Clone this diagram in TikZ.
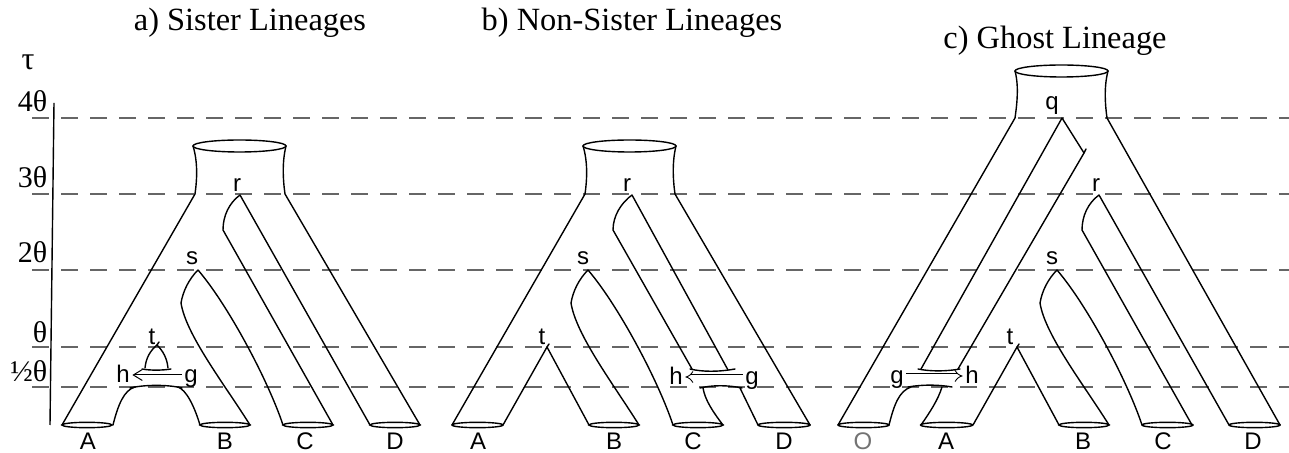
\documentclass[tikz,border=0pt]{standalone}
\usepackage{fontspec}
\setmainfont{Liberation Serif}
\setsansfont{Liberation Sans}
\usetikzlibrary{arrows.meta}

\begin{document}
\begin{tikzpicture}[x=0.5pt,y=-0.5pt,line width=0.7pt]
    \tikzstyle{thetaline}=[draw=black!60, line width=0.6pt, dash pattern=on 8.5pt off 6pt]
    \tikzstyle{tube}=[line join=round, line cap=round]
    \tikzstyle{lbl}=[font=\sffamily\fontsize{12}{14}\selectfont, inner sep=1pt, text height=9pt, text depth=1pt]
    \tikzstyle{paneltitle}=[font=\fontsize{16.2}{19}\selectfont, anchor=base, inner sep=0pt]
    \tikzstyle{tick}=[font=\fontsize{15}{18}\selectfont, anchor=base east, inner sep=0pt]
    \tikzstyle{geneflow}=[line width=0.5pt, -{Straight Barb[length=4.5pt,width=5.5pt]}]
    \tikzstyle{wideflow}=[line width=0.45pt, double, double distance=1.6pt, -{Implies}]
    \useasboundingbox (0,0) rectangle (1289,453);

    \node[paneltitle] (titlea) at (250,31) {a) Sister Lineages};
    \node[paneltitle] (titleb) at (632,31) {b) Non-Sister Lineages};
    \node[paneltitle] (titlec) at (1055,49) {c) Ghost Lineage};

    \draw[thetaline] (32,118) -- (1289,118);
    \draw[thetaline] (32,194) -- (1289,194);
    \draw[thetaline] (32,270) -- (1289,270);
    \draw[thetaline] (32,347) -- (1289,347);
    \draw[thetaline] (32,387) -- (1289,387);

    \node[font=\fontsize{16}{18}\selectfont, inner sep=0pt] (tau) at (28,62) {τ};
    \node[tick] (four) at (48,112) {4θ};
    \node[tick] (three) at (48,188) {3θ};
    \node[tick] (two) at (48,263) {2θ};
    \node[tick] (one) at (48,343) {θ};
    \node[tick] (half) at (48,382) {½θ};
    \draw (54,103) -- (50,425);

    % a) sister lineages
    \draw (239.5,146) ellipse [x radius=46.5, y radius=6];
    \draw[tube] (62,425) -- (195,194) .. controls (197,180) and (198,162) .. (193,146);
    \draw[tube] (420,425) -- (285,194) .. controls (283,180) and (282,162) .. (286,146);
    \draw[tube] (370,425) -- (240,195) .. controls (229,203) and (223,216) .. (223,230) -- (333,425);
    \draw[tube] (283,425) .. controls (268,380) and (228,305) .. (198,270)
        .. controls (189,279) and (183,291) .. (181,303) .. controls (186,335) and (225,385) .. (250,425);
    \draw[tube] (113,425) .. controls (118,405) and (124,390) .. (135,387);
    \draw[tube] (130,388) .. controls (145,384.5) and (168,384.5) .. (182,388);
    \draw[tube] (178,387) .. controls (186,390) and (194,405) .. (200,425);
    \draw[tube] (145,368) .. controls (146,358) and (150,351) .. (157,345) .. controls (163,351) and (167,358) .. (168,368);
    \draw[tube] (157,345) -- (159,342);
    \draw[tube] (142,369) .. controls (150,370.5) and (162,370.5) .. (171,369);
    \draw (87,425) ellipse [x radius=25, y radius=2.7];
    \draw (225,425) ellipse [x radius=25, y radius=2.7];
    \draw (308,425) ellipse [x radius=25, y radius=2.7];
    \draw (395,425) ellipse [x radius=25, y radius=2.7];
    \node[lbl] (ra) at (237,184) {r};
    \node[lbl] (sa) at (192,257) {s};
    \node[lbl] (ta) at (152,337) {t};
    \node[lbl] (ha) at (123,375) {h};
    \node[lbl] (ga) at (191,375) {g};
    \draw[geneflow] (ga) -- (ha);
    \node[lbl] (Aa) at (88,442) {A};
    \node[lbl] (Ba) at (225,442) {B};
    \node[lbl] (Ca) at (305,442) {C};
    \node[lbl] (Da) at (395,442) {D};

    % b) non-sister lineages
    \draw (629.5,146) ellipse [x radius=46.5, y radius=6];
    \draw[tube] (452,425) -- (585,194) .. controls (587,180) and (588,162) .. (583,146);
    \draw[tube] (810,425) -- (675,194) .. controls (673,180) and (672,162) .. (676,146);
    \draw[tube] (728,370) -- (632,195) .. controls (621,203) and (613,216) .. (613,230) -- (692,369);
    \draw[tube] (673,425) .. controls (658,380) and (618,305) .. (588,270)
        .. controls (579,279) and (573,291) .. (571,303) .. controls (576,335) and (614,385) .. (639,425);
    \draw[tube] (503,425) -- (547,347) -- (589,425);
    \draw[tube] (547,347) -- (549,344);
    \draw[tube] (690,369) .. controls (703,372) and (718,372) .. (735,369);
    \draw[tube] (700,388) .. controls (712,385) and (728,385) .. (742,388);
    \draw[tube] (703,388) .. controls (705,400) and (713,412) .. (723,425);
    \draw[tube] (740,388) -- (758,425);
    \draw (477.5,425) ellipse [x radius=25.5, y radius=2.7];
    \draw (614,425) ellipse [x radius=25, y radius=2.7];
    \draw (698,425) ellipse [x radius=25, y radius=2.7];
    \draw (784,425) ellipse [x radius=26, y radius=2.7];
    \node[lbl] (rb) at (627,184) {r};
    \node[lbl] (sb) at (583,257) {s};
    \node[lbl] (tb) at (542,337) {t};
    \node[lbl] (hb) at (676,377) {h};
    \node[lbl] (gb) at (752,377) {g};
    \draw[wideflow] (gb) -- (hb);
    \node[lbl] (Ab) at (478,442) {A};
    \node[lbl] (Bb) at (614,442) {B};
    \node[lbl] (Cb) at (693,442) {C};
    \node[lbl] (Db) at (784,442) {D};

    % c) ghost lineage
    \draw (1061.5,71) ellipse [x radius=46.5, y radius=6];
    \draw[tube] (838,425) -- (1015,118) .. controls (1017,104) and (1019,86) .. (1015,71);
    \draw[tube] (1280,425) -- (1107,118) .. controls (1105,104) and (1104,86) .. (1108,71);
    \draw[tube] (921,369) -- (1062,118) -- (1084,153) -- (958,369);
    \draw[tube] (1084,153) -- (1086,149);
    \draw[tube] (1229,425) -- (1099,195) .. controls (1088,203) and (1082,216) .. (1082,230) -- (1192,425);
    \draw[tube] (1142,425) .. controls (1127,380) and (1087,305) .. (1057,270)
        .. controls (1048,279) and (1042,291) .. (1040,303) .. controls (1045,335) and (1084,385) .. (1109,425);
    \draw[tube] (973,425) -- (1017,347) -- (1059,425);
    \draw[tube] (1017,347) -- (1019,344);
    \draw[tube] (918,369) .. controls (930,371.5) and (946,371.5) .. (960,369);
    \draw[tube] (908,387) .. controls (922,384.5) and (938,384.5) .. (952,387);
    \draw[tube] (889,425) .. controls (894,405) and (899,391) .. (911,387);
    \draw[tube] (942,387) .. controls (938,400) and (930,412) .. (921,425);
    \draw (863.5,425) ellipse [x radius=25.5, y radius=2.7];
    \draw (946.5,425) ellipse [x radius=26, y radius=2.7];
    \draw (1084,425) ellipse [x radius=25, y radius=2.7];
    \draw (1167.5,425) ellipse [x radius=25.5, y radius=2.7];
    \draw (1254.5,425) ellipse [x radius=25.5, y radius=2.7];
    \node[lbl] (qc) at (1052,102) {q};
    \node[lbl] (rc) at (1096,184) {r};
    \node[lbl] (sc) at (1052,257) {s};
    \node[lbl] (tc) at (1010,337) {t};
    \node[lbl] (gc) at (897,376) {g};
    \node[lbl] (hc) at (972,376) {h};
    \draw[wideflow] (gc) -- (hc);
    \node[lbl, text=black!55] (Oc) at (863,442) {O};
    \node[lbl] (Ac) at (946,442) {A};
    \node[lbl] (Bc) at (1083,442) {B};
    \node[lbl] (Cc) at (1163,442) {C};
    \node[lbl] (Dc) at (1253,442) {D};
\end{tikzpicture}
\end{document}
